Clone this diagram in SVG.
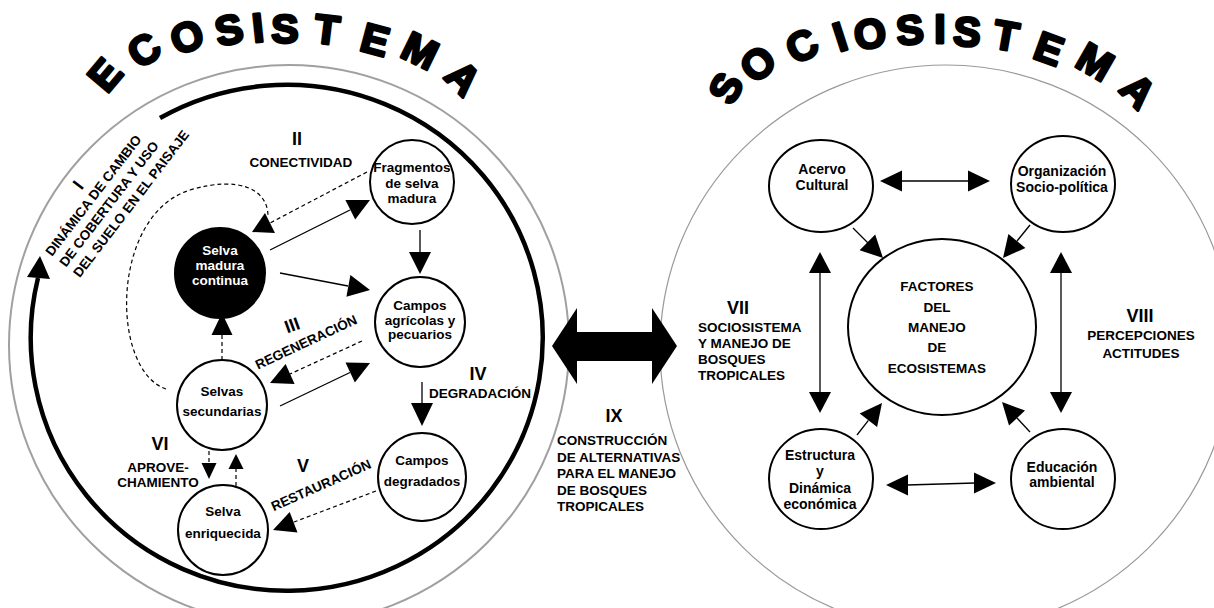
<svg xmlns="http://www.w3.org/2000/svg" width="1214" height="608" viewBox="0 0 1214 608">
<style>
text{font-family:"Liberation Sans",Arial,sans-serif;font-weight:bold;fill:#000}
.t{font-size:41px;stroke:#000;stroke-width:2.8px;stroke-linejoin:round;text-anchor:middle}
.n{font-size:13.5px;text-anchor:middle}
.rn{font-size:14px;text-anchor:middle}
.lb{font-size:13.5px}
.c{text-anchor:middle}
.rom{font-size:18px;text-anchor:middle}
.node{fill:#fff;stroke:#000;stroke-width:2}
.ln{stroke:#000;stroke-width:1.3;fill:none}
.ds{stroke:#000;stroke-width:1.2;fill:none;stroke-dasharray:4 3}
.ah{fill:#000;stroke:none}
</style>
<rect width="1214" height="608" fill="#fff"/>

<g id="frames">
<circle cx="289" cy="345" r="280" fill="none" stroke="#a0a0a0" stroke-width="2"/>
<ellipse cx="946" cy="348" rx="286" ry="283" fill="none" stroke="#999" stroke-width="1.2"/>
<path d="M160,118 A256,253 0 1 1 38,278" fill="none" stroke="#000" stroke-width="4.5"/>
<polygon class="ah" points="40,256 50,279 27,277"/>
</g>

<g id="title-ecosistema">
<text class="t" transform="translate(105,75) rotate(-50)" y="14">E</text>
<text class="t" transform="translate(144,50) rotate(-35)" y="14">C</text>
<text class="t" transform="translate(187,37) rotate(-22)" y="14">O</text>
<text class="t" transform="translate(229,30) rotate(-12)" y="14">S</text>
<text class="t" transform="translate(258,28) rotate(-6)" y="14">I</text>
<text class="t" transform="translate(285,29) rotate(0)" y="14">S</text>
<text class="t" transform="translate(327,30) rotate(7)" y="14">T</text>
<text class="t" transform="translate(375,40) rotate(15)" y="14">E</text>
<text class="t" transform="translate(420,51) rotate(26)" y="14">M</text>
<text class="t" transform="translate(463,78) rotate(45)" y="14">A</text>
</g>

<g id="title-sociosistema">
<text class="t" transform="translate(726,88) rotate(-62)" y="14">S</text>
<text class="t" transform="translate(758,64) rotate(-42)" y="14">O</text>
<text class="t" transform="translate(802,46) rotate(-28)" y="14">C</text>
<text class="t" transform="translate(840,37) rotate(-18)" y="14">I</text>
<text class="t" transform="translate(870,34) rotate(-10)" y="14">O</text>
<text class="t" transform="translate(910,30) rotate(-5)" y="14">S</text>
<text class="t" transform="translate(940,29) rotate(0)" y="14">I</text>
<text class="t" transform="translate(967,32) rotate(4)" y="14">S</text>
<text class="t" transform="translate(1006,36) rotate(10)" y="14">T</text>
<text class="t" transform="translate(1049,49) rotate(20)" y="14">E</text>
<text class="t" transform="translate(1095,62) rotate(30)" y="14">M</text>
<text class="t" transform="translate(1138,91) rotate(45)" y="14">A</text>
</g>

<g id="connectors">
<line class="ds" x1="367" y1="172" x2="270" y2="223"/>
<path class="ds" d="M166,389 C110,370 110,215 190,190 C240,175 268,190 268,216"/>
<polygon class="ah" points="252,232 275,233 265,213"/>
<line class="ln" x1="270" y1="250" x2="350" y2="210"/>
<polygon class="ah" points="370,200 355.2,219.6 345.4,200"/>
<line class="ln" x1="280" y1="273" x2="348" y2="286"/>
<polygon class="ah" points="370,290 346.4,296.7 350.4,275.1"/>
<line class="ln" x1="420" y1="230" x2="420" y2="253"/>
<polygon class="ah" points="420,274 409,252 431,252"/>
<line class="ds" x1="362" y1="341" x2="290" y2="374"/>
<polygon class="ah" points="270,383 285.6,364 294.6,384"/>
<line class="ln" x1="280" y1="406" x2="350" y2="372.5"/>
<polygon class="ah" points="370,363 354.9,382.4 345.5,362.6"/>
<line class="ln" x1="422" y1="382" x2="422" y2="404"/>
<polygon class="ah" points="422,426 411,403 433,403"/>
<line class="ds" x1="222" y1="360" x2="222" y2="335"/>
<polygon class="ah" points="222,313 211.5,335 232.5,335"/>
<line class="ds" x1="209" y1="451" x2="209" y2="464"/>
<polygon class="ah" points="209,479 201.5,463 216.5,463"/>
<line class="ds" x1="236" y1="486" x2="236" y2="468"/>
<polygon class="ah" points="236,454 228.5,469 243.5,469"/>
<line class="ds" x1="376" y1="491" x2="294" y2="522"/>
<polygon class="ah" points="273,530 289.7,511.9 297.5,532.5"/>
<polygon class="ah" points="552,346 577,308 577,332 652,332 652,308 677,346 652,384 652,361 577,361 577,384"/>
<line class="ln" x1="902" y1="181" x2="969" y2="181"/>
<polygon class="ah" points="880,181 902,170.5 902,191.5"/>
<polygon class="ah" points="990,181 968,170.5 968,191.5"/>
<line class="ln" x1="907" y1="485" x2="975" y2="483"/>
<polygon class="ah" points="886,485 908,474.5 908,495.5"/>
<polygon class="ah" points="996,483 974,472.5 974,493.5"/>
<line class="ln" x1="853" y1="228" x2="868" y2="243"/>
<polygon class="ah" points="883,258 859.6,250.2 875.2,234.6"/>
<line class="ln" x1="1030" y1="225" x2="1017" y2="241"/>
<polygon class="ah" points="1003,258 1008.4,234 1025.4,248"/>
<line class="ln" x1="857" y1="435" x2="868.4" y2="420.3"/>
<polygon class="ah" points="882,403 877.1,427.1 859.7,413.5"/>
<line class="ln" x1="1030" y1="432" x2="1017" y2="418"/>
<polygon class="ah" points="1002,402 1025,410.6 1009,425.6"/>
<line class="ln" x1="820" y1="272" x2="820" y2="393"/>
<polygon class="ah" points="820,252 809,273 831,273"/>
<polygon class="ah" points="820,413 809,392 831,392"/>
<line class="ln" x1="1061" y1="272" x2="1061" y2="393"/>
<polygon class="ah" points="1061,252 1050,273 1072,273"/>
<polygon class="ah" points="1061,413 1050,392 1072,392"/>
</g>

<g id="selva-madura-continua">
<circle cx="220" cy="273" r="45" fill="#000" stroke="#000" stroke-width="2"/>
<text class="n" x="220" y="255" style="fill:#fff">Selva</text>
<text class="n" x="220" y="270" style="fill:#fff">madura</text>
<text class="n" x="220" y="285" style="fill:#fff">continua</text>
</g>
<g id="fragmentos">
<circle class="node" cx="412" cy="182" r="42"/>
<text class="n" x="412" y="172">Fragmentos</text>
<text class="n" x="412" y="187.5">de selva</text>
<text class="n" x="412" y="203">madura</text>
</g>
<g id="campos-agricolas">
<circle class="node" cx="420" cy="322" r="45"/>
<text class="n" x="420" y="310">Campos</text>
<text class="n" x="420" y="325">agrícolas y</text>
<text class="n" x="420" y="339">pecuarios</text>
</g>
<g id="selvas-secundarias">
<circle class="node" cx="222" cy="405" r="45"/>
<text class="n" x="222" y="396">Selvas</text>
<text class="n" x="222" y="416">secundarias</text>
</g>
<g id="campos-degradados">
<circle class="node" cx="422" cy="477" r="44"/>
<text class="n" x="422" y="465">Campos</text>
<text class="n" x="422" y="486">degradados</text>
</g>
<g id="selva-enriquecida">
<circle class="node" cx="223" cy="530" r="45"/>
<text class="n" x="223" y="516">Selva</text>
<text class="n" x="223" y="538">enriquecida</text>
</g>

<g id="acervo-cultural">
<ellipse class="node" cx="821" cy="186" rx="52" ry="46"/>
<text class="rn" x="822" y="174">Acervo</text>
<text class="rn" x="822" y="190">Cultural</text>
</g>
<g id="organizacion">
<ellipse class="node" cx="1063" cy="184" rx="52" ry="48"/>
<text class="rn" x="1062" y="176">Organización</text>
<text class="rn" x="1062" y="192">Socio-política</text>
</g>
<g id="factores">
<ellipse class="node" cx="942" cy="327" rx="94" ry="88"/>
<text class="n" x="937" y="291">FACTORES</text>
<text class="n" x="937" y="312">DEL</text>
<text class="n" x="937" y="332">MANEJO</text>
<text class="n" x="937" y="352">DE</text>
<text class="n" x="937" y="373">ECOSISTEMAS</text>
</g>
<g id="estructura">
<ellipse class="node" cx="821" cy="479" rx="52" ry="50"/>
<text class="rn" x="820" y="460">Estructura</text>
<text class="rn" x="820" y="476">y</text>
<text class="rn" x="820" y="493">Dinámica</text>
<text class="rn" x="820" y="509">económica</text>
</g>
<g id="educacion">
<ellipse class="node" cx="1063" cy="479" rx="52" ry="50"/>
<text class="rn" x="1062" y="472">Educación</text>
<text class="rn" x="1062" y="487">ambiental</text>
</g>

<g id="labels">
<g transform="translate(52,257) rotate(-52.5)">
<text class="rom" x="73" y="-17">I</text>
<text class="lb" x="0" y="0">DINÁMICA DE CAMBIO</text>
<text class="lb" x="0" y="17.5">DE COBERTURA Y USO</text>
<text class="lb" x="0" y="35">DEL SUELO EN EL PAISAJE</text>
</g>
<text class="rom" x="297" y="144.5">II</text>
<text class="lb c" x="301" y="167">CONECTIVIDAD</text>
<text class="rom" transform="translate(292,325) rotate(-20)" y="6.4">III</text>
<text class="lb c" transform="translate(306,342) rotate(-25)" y="4.8">REGENERACIÓN</text>
<text class="rom" x="478" y="379.5">IV</text>
<text class="lb c" x="480" y="398">DEGRADACIÓN</text>
<text class="rom" x="303" y="471.5">V</text>
<text class="lb c" transform="translate(321,485) rotate(-24)" y="4.8">RESTAURACIÓN</text>
<text class="rom" x="160" y="449.5">VI</text>
<text class="lb c" x="158" y="472">APROVE-</text>
<text class="lb c" x="158" y="487">CHAMIENTO</text>
<text class="rom" x="614" y="421.5">IX</text>
<text class="lb" x="557" y="445">CONSTRUCCIÓN</text>
<text class="lb" x="557" y="461.5">DE ALTERNATIVAS</text>
<text class="lb" x="557" y="478">PARA EL MANEJO</text>
<text class="lb" x="557" y="494.5">DE BOSQUES</text>
<text class="lb" x="557" y="511">TROPICALES</text>
<text class="rom" x="738" y="313.5">VII</text>
<text class="lb" x="698" y="332">SOCIOSISTEMA</text>
<text class="lb" x="698" y="348">Y MANEJO DE</text>
<text class="lb" x="698" y="363.5">BOSQUES</text>
<text class="lb" x="698" y="380">TROPICALES</text>
<text class="rom" x="1140" y="321.5">VIII</text>
<text class="lb c" x="1141" y="340">PERCEPCIONES</text>
<text class="lb c" x="1141" y="358">ACTITUDES</text>
</g>
</svg>
